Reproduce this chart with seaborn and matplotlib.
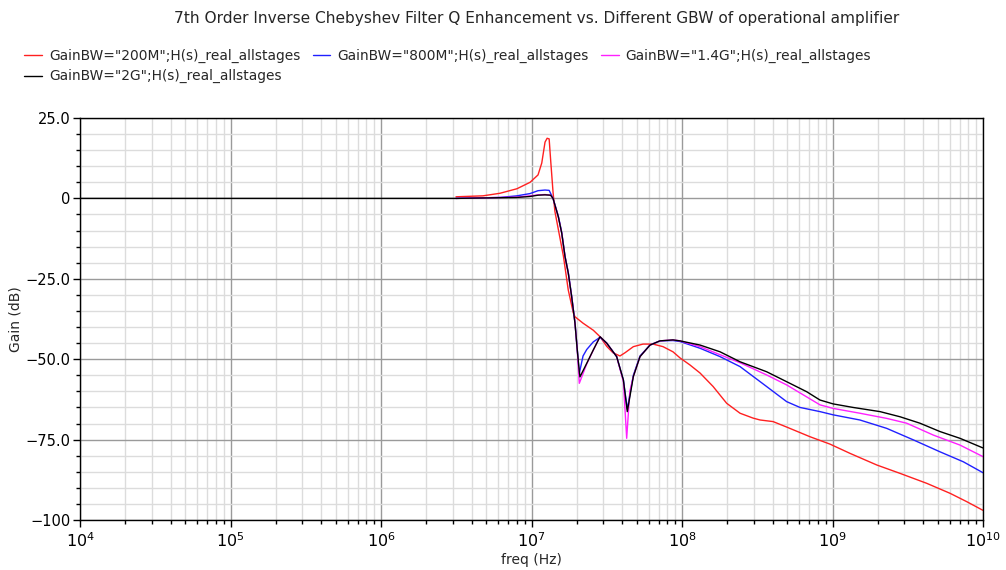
import numpy as np
import pandas as pd
import matplotlib
matplotlib.use("Agg")
import matplotlib.pyplot as plt
import matplotlib.ticker as mticker
import seaborn as sns

title = "7th Order Inverse Chebyshev Filter Q Enhancement vs. Different GBW of operational amplifier"
labels = ['GainBW="200M";H(s)_real_allstages',
          'GainBW="800M";H(s)_real_allstages',
          'GainBW="1.4G";H(s)_real_allstages',
          'GainBW="2G";H(s)_real_allstages']
colors = ["#ff2020", "#2020ff", "#ff20ff", "#000000"]
x_ticks = [1e4, 1e5, 1e6, 1e7, 1e8, 1e9, 1e10]
x_tick_labels = ["$10^{4}$", "$10^{5}$", "$10^{6}$", "$10^{7}$", "$10^{8}$", "$10^{9}$", "$10^{10}$"]
y_ticks = [-100, -75, -50, -25, 0, 25]
y_tick_labels = ["\u2212100", "\u221275.0", "\u221250.0", "\u221225.0", "0", "25.0"]

freq_red = [3.15e6, 4.76e6, 6.18e6, 8.0e6, 9.78e6, 1.105e7, 1.17e7, 1.23e7, 1.27e7, 1.31e7,
            1.34e7, 1.39e7, 1.43e7, 1.63e7, 1.755e7, 1.896e7, 1.945e7, 2.2e7, 2.575e7, 2.853e7,
            3.16e7, 3.48e7, 3.87e7, 4.18e7, 4.75e7, 5.51e7, 6.41e7, 7.48e7, 8.71e7, 9.7e7,
            1.13e8, 1.318e8, 1.61e8, 1.98e8, 2.43e8, 2.96e8, 3.30e8, 4.03e8, 4.96e8, 7.08e8,
            9.62e8, 1.31e9, 1.97e9, 2.81e9, 4.23e9, 6.04e9, 7.8e9, 1e10]
gain_red = [0.5, 0.8, 1.6, 3.0, 5.0, 7.3, 11.0, 17.5, 18.7, 18.5,
            12.0, 2.0, -4.0, -18.0, -28.5, -35.6, -36.8, -38.8, -41.0, -43.0,
            -46.0, -48.0, -49.0, -48.0, -46.1, -45.3, -45.3, -46.1, -47.7, -49.6,
            -51.8, -54.3, -58.5, -63.7, -66.8, -68.3, -68.9, -69.4, -71.1, -74.1,
            -76.4, -79.3, -82.9, -85.5, -88.6, -91.7, -94.3, -97.0]

freq_blue = [3.15e6, 6.18e6, 8.0e6, 9.78e6, 1.105e7, 1.23e7, 1.31e7, 1.39e7, 1.507e7, 1.588e7,
             1.67e7, 1.755e7, 1.849e7, 1.945e7, 2.014e7, 2.078e7, 2.2e7, 2.327e7, 2.575e7, 2.853e7,
             3.16e7, 3.68e7, 4.08e7, 4.33e7, 4.75e7, 5.26e7, 6.13e7, 7.14e7, 8.71e7, 9.7e7,
             1.318e8, 1.79e8, 2.43e8, 3.65e8, 4.96e8, 6.08e8, 8.26e8, 1.01e9, 1.52e9, 2.29e9,
             3.45e9, 5.18e9, 7.4e9, 1e10]
gain_blue = [0.0, 0.3, 0.8, 1.5, 2.4, 2.6, 2.5, 0.0, -5.5, -10.6,
             -18.0, -23.0, -30.4, -38.6, -47.0, -54.4, -49.0, -47.0, -44.6, -43.2,
             -45.0, -49.2, -56.5, -65.5, -55.0, -49.0, -45.6, -44.3, -44.2, -44.5,
             -46.6, -49.2, -52.3, -58.5, -63.2, -65.0, -66.3, -67.3, -68.9, -71.5,
             -75.1, -78.8, -81.9, -85.3]

freq_mag = [3.15e6, 8.0e6, 9.78e6, 1.105e7, 1.23e7, 1.34e7, 1.39e7, 1.507e7, 1.588e7, 1.67e7,
            1.755e7, 1.849e7, 1.945e7, 2.014e7, 2.078e7, 2.327e7, 2.575e7, 2.853e7, 3.16e7, 3.68e7,
            4.08e7, 4.29e7, 4.5e7, 4.75e7, 5.26e7, 6.13e7, 7.14e7, 8.71e7, 9.7e7, 1.318e8,
            2.43e8, 3.65e8, 4.96e8, 8.26e8, 1.01e9, 1.52e9, 2.29e9, 3.11e9, 4.68e9, 7.03e9,
            1e10]
gain_mag = [0.0, 0.4, 0.8, 1.1, 1.2, 1.0, 0.0, -5.7, -10.8, -18.1,
            -23.2, -30.6, -38.8, -47.1, -57.5, -51.5, -47.2, -43.0, -45.0, -49.2,
            -57.0, -74.6, -60.0, -55.4, -49.2, -45.6, -44.3, -44.0, -44.3, -46.1,
            -51.1, -54.9, -58.0, -64.2, -65.3, -66.8, -68.4, -69.9, -73.6, -76.7,
            -80.3]

freq_black = [1e4, 3.15e6, 8.0e6, 9.78e6, 1.105e7, 1.23e7, 1.34e7, 1.39e7, 1.507e7, 1.588e7,
              1.67e7, 1.755e7, 1.849e7, 1.945e7, 2.014e7, 2.078e7, 2.099e7, 2.327e7, 2.575e7, 2.853e7,
              3.16e7, 3.68e7, 4.08e7, 4.33e7, 4.75e7, 5.26e7, 6.13e7, 7.14e7, 8.71e7, 9.7e7,
              1.318e8, 1.79e8, 2.43e8, 3.65e8, 4.96e8, 6.73e8, 8.26e8, 1.01e9, 1.37e9, 2.07e9,
              2.81e9, 3.81e9, 5.18e9, 7.03e9, 1e10]
gain_black = [0.0, 0.0, 0.3, 0.6, 1.0, 1.1, 1.0, 0.0, -5.7, -10.8,
              -18.1, -23.2, -30.6, -38.8, -47.1, -53.9, -55.5, -51.3, -47.1, -43.0,
              -45.0, -49.2, -56.5, -66.3, -55.4, -49.2, -45.6, -44.3, -44.0, -44.3,
              -45.6, -47.7, -50.8, -53.9, -57.0, -60.1, -62.7, -63.9, -65.0, -66.3,
              -67.9, -69.9, -72.5, -74.6, -77.6]

series = [(freq_red, gain_red), (freq_blue, gain_blue), (freq_mag, gain_mag), (freq_black, gain_black)]

sns.set_style("white")
plt.rcParams['font.family'] = ['DejaVu Sans']

fig = plt.figure(figsize=(10.06, 5.70), dpi=100)
ax = fig.add_axes([80/1006, 1 - 520/570, (983-80)/1006, (520-118)/570])

for (f, g), lab, c in zip(series, labels, colors):
    df = pd.DataFrame({"freq": f, "gain": g})
    sns.lineplot(data=df, x="freq", y="gain", ax=ax, color=c, lw=1.0, sort=False,
                 label=lab, legend=False)

ax.set_xscale("log")
ax.set_xlim(1e4, 1e10)
ax.set_ylim(-100, 25)
minor_x = [m * 10.0**d for d in range(4, 10) for m in range(2, 10)]
ax.xaxis.set_major_locator(mticker.FixedLocator(x_ticks))
ax.xaxis.set_major_formatter(mticker.FixedFormatter(x_tick_labels))
ax.xaxis.set_minor_locator(mticker.FixedLocator(minor_x))
ax.xaxis.set_minor_formatter(mticker.NullFormatter())
ax.yaxis.set_major_locator(mticker.FixedLocator(y_ticks))
ax.yaxis.set_major_formatter(mticker.FixedFormatter(y_tick_labels))
ax.yaxis.set_minor_locator(mticker.FixedLocator([v for v in range(-95, 25, 5) if v % 25 != 0]))
ax.yaxis.set_minor_formatter(mticker.NullFormatter())

ax.grid(True, which="major", color="#9a9a9a", lw=1.0)
ax.grid(True, which="minor", color="#dcdcdc", lw=1.0)
ax.set_axisbelow(True)
for sp in ax.spines.values():
    sp.set_visible(True)
    sp.set_color("black")
    sp.set_linewidth(1.0)

ax.tick_params(axis="both", which="major", direction="out", length=5, width=1, color="black",
               left=True, bottom=True)
ax.tick_params(axis="both", which="minor", direction="out", length=3, width=1, color="black",
               left=True, bottom=True)
ax.tick_params(axis="y", labelsize=10.5, colors="black", pad=2)
ax.tick_params(axis="x", labelsize=11.5, colors="black", pad=3)

ax.set_xlabel("freq (Hz)", fontsize=10, labelpad=2)
ax.set_ylabel("Gain (dB)", fontsize=10, labelpad=2)

fig.text(537/1006, 1 - 18/570, title, ha="center", va="center", fontsize=11.1)

handles, labs = ax.get_legend_handles_labels()
order = [0, 3, 1, 2]
fig.legend([handles[i] for i in order], [labs[i] for i in order], loc="upper left",
           bbox_to_anchor=(24/1006, 1 - 49/570), ncol=3,
           frameon=False, fontsize=9.9, handlelength=1.3, handletextpad=0.5,
           columnspacing=0.9, labelspacing=0.45, borderpad=0, borderaxespad=0)

fig.savefig("out.png", dpi=100)
